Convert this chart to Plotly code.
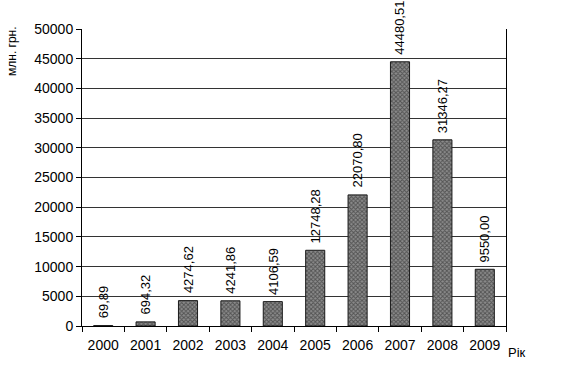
import plotly.graph_objects as go

years = ["2000", "2001", "2002", "2003", "2004", "2005", "2006", "2007", "2008", "2009"]
values = [69.89, 694.32, 4274.62, 4241.86, 4106.59, 12748.28, 22070.80, 44480.51, 31346.27, 9550.00]
labels = ["69,89", "694,32", "4274,62", "4241,86", "4106,59", "12748,28", "22070,80", "44480,51", "31346,27", "9550,00"]
y_ticks = [0, 5000, 10000, 15000, 20000, 25000, 30000, 35000, 40000, 45000, 50000]

FONT = "Liberation Sans, Arial, sans-serif"
W, H = 571, 365
ML, MR, MT, MB = 82, 65, 29, 39

fig = go.Figure(go.Bar(
    x=years, y=values,
    width=0.45,
    marker=dict(
        color="#5a5a5a",
        line=dict(color="#1a1a1a", width=1),
        pattern=dict(shape="x", fgcolor="#1c1c1c", bgcolor="#8c8c8c", size=3, solidity=0.55),
    ),
))

pw = W - ML - MR
ph = H - MT - MB

annotations = [
    dict(x=i, y=v, xref="x", yref="y", text=lab, showarrow=False,
         textangle=-90, yanchor="bottom", xanchor="center", yshift=5,
         font=dict(size=13, color="black"))
    for i, (v, lab) in enumerate(zip(values, labels))
]
annotations += [
    dict(text="млн. грн.", xref="paper", yref="paper",
         x=(12 - ML) / pw, y=(H - MB - 51) / ph, showarrow=False,
         textangle=-90, font=dict(size=12), xanchor="center", yanchor="middle"),
    dict(text="Рік", xref="paper", yref="paper",
         x=(517 - ML) / pw, y=(H - MB - 352) / ph, showarrow=False,
         font=dict(size=13), xanchor="center", yanchor="middle"),
]

fig.update_layout(
    width=W, height=H,
    margin=dict(l=ML, r=MR, t=MT, b=MB),
    paper_bgcolor="white", plot_bgcolor="white",
    font=dict(family=FONT, size=14, color="black"),
    showlegend=False,
    xaxis=dict(
        type="category", categoryorder="array", categoryarray=years,
        range=[-0.5, len(years) - 0.5],
        tickson="boundaries", ticks="outside", ticklen=5,
        tickcolor="black", showline=True, linecolor="black", linewidth=1,
        showgrid=False, tickfont=dict(size=14), ticklabelstandoff=6,
    ),
    yaxis=dict(
        range=[0, 50000], tickvals=y_ticks, ticks="outside", ticklen=5,
        tickcolor="black", showline=True, linecolor="black", linewidth=1, mirror=True,
        showgrid=True, gridcolor="#333333", gridwidth=1, zeroline=False,
        tickfont=dict(size=14), tickformat="d",
    ),
    annotations=annotations,
)

fig.write_html(
    "out.html",
    config={"displayModeBar": False},
    post_script="document.body.style.margin='0';document.body.style.overflow='hidden';",
)
